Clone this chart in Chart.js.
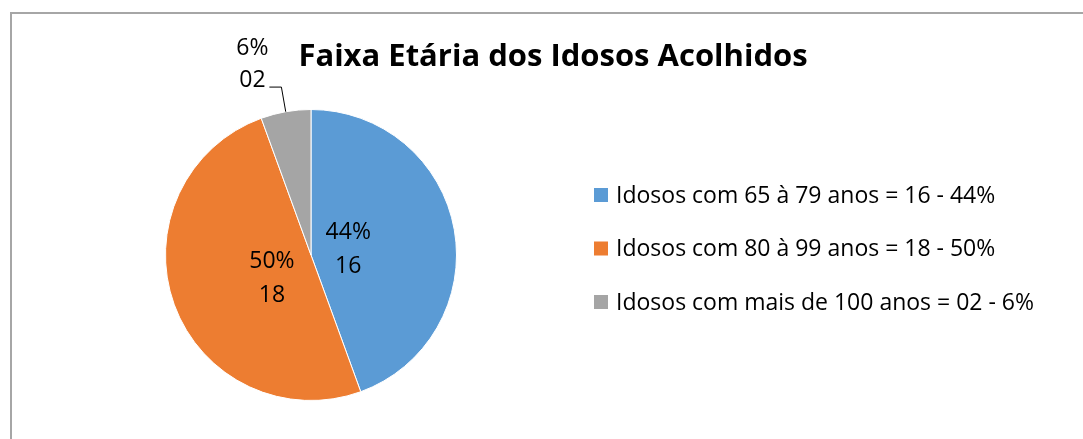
<!DOCTYPE html>
<html lang="pt">
<head>
  <meta charset="UTF-8">
  <title>Faixa Etária dos Idosos Acolhidos</title>
  <script src="https://cdn.jsdelivr.net/npm/chart.js"></script>
  <style>
    html, body {
      margin: 0;
      padding: 0;
      background: #fff;
      overflow: hidden;
    }
    /* moldura cinza do gráfico (sai pela direita e por baixo) */
    .moldura {
      position: absolute;
      left: 10px;
      top: 12px;
      width: 1100px;
      height: 460px;
      border-top: 2px solid #a6a6a6;
      border-left: 2px solid #a6a6a6;
    }
    .grafico {
      position: absolute;
      left: 0;
      top: 0;
      width: 1083px;
      height: 439px;
    }
  </style>
</head>
<body>

<div class="moldura"></div>
<div class="grafico"><canvas id="grafico"></canvas></div>

<script>
  // Dados
  const titulo = 'Faixa Etária dos Idosos Acolhidos';
  const faixas = [
    'Idosos com 65 à 79 anos = 16 - 44%',
    'Idosos com 80 à 99 anos = 18 - 50%',
    'Idosos com mais de 100 anos = 02 - 6%'
  ];
  const quantidades = [16, 18, 2];
  const quantidadesTxt = ['16', '18', '02'];
  const percentuais = ['44%', '50%', '6%'];

  const cores = ['#5B9BD5', '#ED7D31', '#A5A5A5'];
  const fonte = '"Open Sans", "Noto Sans", sans-serif';

  // posição dos rótulos internos: fração do raio e desvio do ângulo (graus)
  const raioRotulo = [0.26, 0.31];
  const desvioRotulo = [0, -10];

  // Plugin: título, legenda à direita e rótulos das fatias
  const textos = {
    id: 'textos',
    afterDraw(chart) {
      const ctx = chart.ctx;
      ctx.save();
      ctx.fillStyle = '#000';

      // título
      ctx.font = 'bold 31px ' + fonte;
      ctx.textAlign = 'center';
      ctx.textBaseline = 'middle';
      ctx.fillText(titulo, 553, 57);

      // legenda
      ctx.font = '23px ' + fonte;
      ctx.textAlign = 'left';
      faixas.forEach((txt, i) => {
        const y = 195 + i * 53.5;
        ctx.fillStyle = cores[i];
        ctx.fillRect(594, y - 7, 14, 14);
        ctx.fillStyle = '#000';
        ctx.fillText(txt, 616, y + 1);
      });

      // rótulos das fatias
      const meta = chart.getDatasetMeta(0);
      const total = quantidades.reduce((a, b) => a + b, 0);
      meta.data.forEach((arc, i) => {
        const p = arc.getProps(['x', 'y', 'startAngle', 'endAngle', 'outerRadius'], true);
        let meio = (p.startAngle + p.endAngle) / 2;
        ctx.fillStyle = '#000';
        ctx.textAlign = 'center';
        if (quantidades[i] / total >= 0.1) {
          meio += desvioRotulo[i] * Math.PI / 180;
          const r = p.outerRadius * raioRotulo[i];
          const cx = p.x + Math.cos(meio) * r;
          const cy = p.y + Math.sin(meio) * r;
          ctx.fillText(percentuais[i], cx, cy - 16);
          ctx.fillText(quantidadesTxt[i], cx, cy + 18);
        } else {
          // rótulo externo com linha de chamada
          const cos = Math.cos(meio), sin = Math.sin(meio);
          const x0 = p.x + cos * p.outerRadius;
          const y0 = p.y + sin * p.outerRadius;
          const x1 = p.x + cos * (p.outerRadius + 25);
          const y1 = p.y + sin * (p.outerRadius + 25);
          ctx.strokeStyle = '#000';
          ctx.lineWidth = 1;
          ctx.beginPath();
          ctx.moveTo(x0, y0);
          ctx.lineTo(x1, y1);
          ctx.lineTo(x1 - 12, y1);
          ctx.stroke();
          ctx.fillText(percentuais[i], x1 - 29, y1 - 39);
          ctx.fillText(quantidadesTxt[i], x1 - 29, y1 - 7);
        }
      });
      ctx.restore();
    }
  };

  const ctx = document.getElementById('grafico').getContext('2d');
  new Chart(ctx, {
    type: 'pie',
    data: {
      labels: faixas,
      datasets: [{
        data: quantidades,
        backgroundColor: cores,
        borderColor: '#fff',
        borderWidth: 1
      }]
    },
    options: {
      responsive: true,
      maintainAspectRatio: false,
      animation: false,
      layout: {
        padding: { left: 165, right: 626, top: 109, bottom: 38 }
      },
      plugins: {
        legend: { display: false },
        title: { display: false },
        tooltip: { enabled: false }
      }
    },
    plugins: [textos]
  });
</script>
</body>
</html>
